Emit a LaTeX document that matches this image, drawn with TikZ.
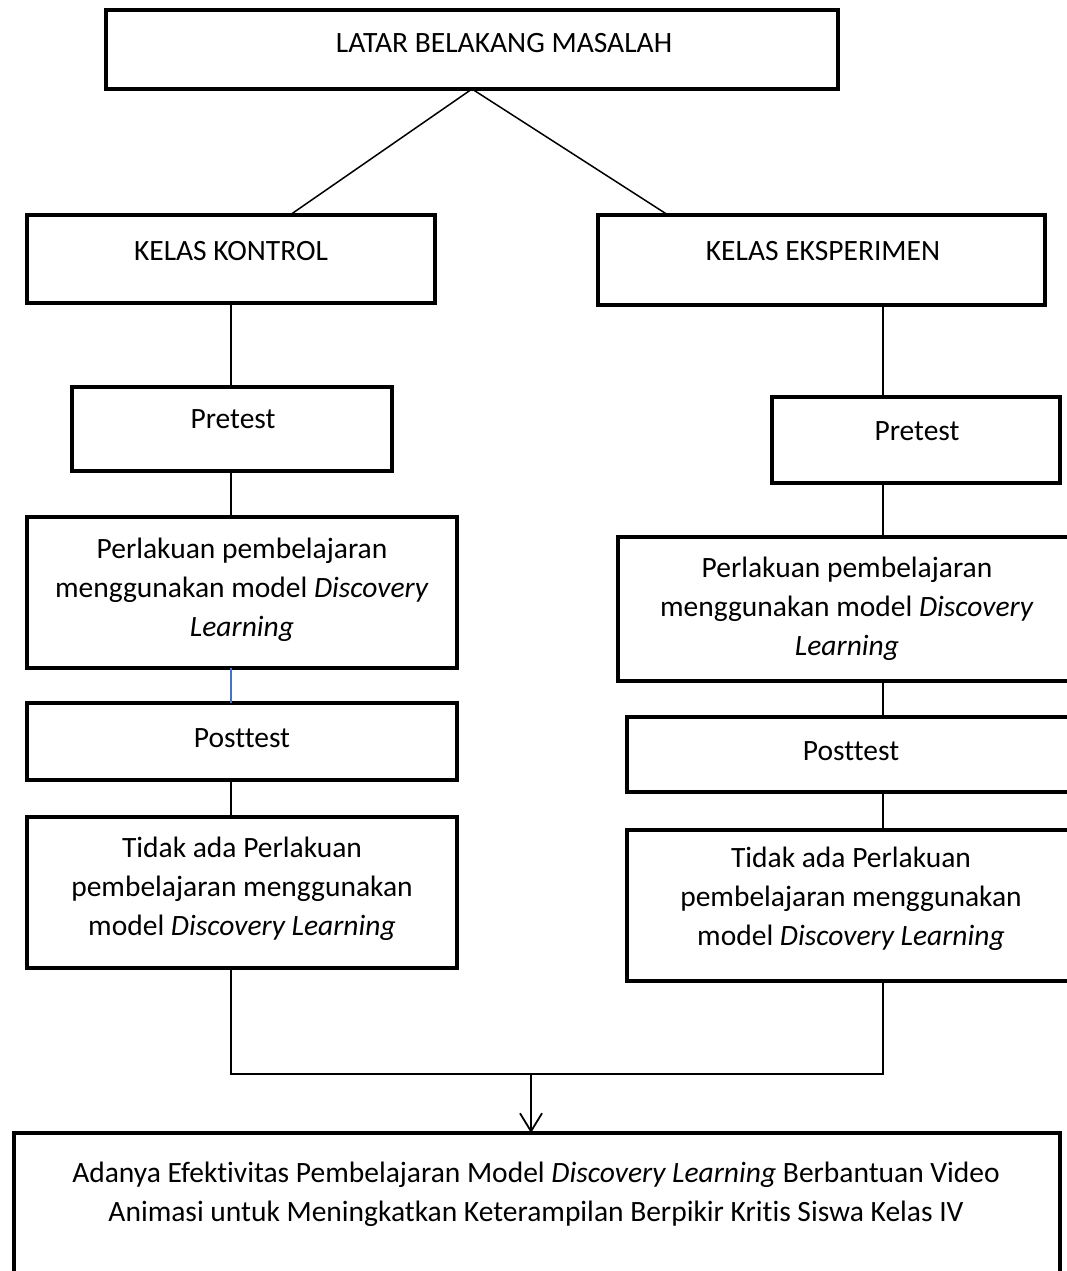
\documentclass[tikz,border=0pt]{standalone}
\usepackage{fontspec}
\setmainfont{Carlito}[Ligatures=NoCommon]
\usetikzlibrary{arrows.meta}
\definecolor{wordblue}{RGB}{68,114,196}
\begin{document}
\begin{tikzpicture}[x=1pt,y=-1pt,
  box/.style={draw, line width=4.5pt, inner sep=0pt, outer sep=0pt, minimum width=#1},
  txt/.style={font=\fontsize{29.5}{39}\selectfont, align=center, inner sep=0pt},
  conn/.style={line width=1.8pt},
  diag/.style={line width=1.5pt}]
\useasboundingbox (0,0) rectangle (1067,1271);
\clip (0,0) rectangle (1067,1271);
% boxes
\node[box=732pt, minimum height=79pt] (top) at (472,49.5) {};
\node[txt] (topt) at (504,43) {LATAR BELAKANG MASALAH};
\node[box=408pt, minimum height=88pt] (kon) at (231,259) {};
\node[txt] (kont) at (231,251) {KELAS KONTROL};
\node[box=447pt, minimum height=90pt] (eks) at (821.5,260) {};
\node[txt] (ekst) at (823,251) {KELAS EKSPERIMEN};
\node[box=320pt, minimum height=84pt] (preL) at (232,429) {};
\node[txt] (preLt) at (233,419) {Pretest};
\node[box=288pt, minimum height=86pt] (preR) at (916,440) {};
\node[txt] (preRt) at (917,431) {Pretest};
\node[box=430pt, minimum height=151pt] (perL) at (242,592.5) {};
\node[txt] (perLt) at (242,590) {Perlakuan pembelajaran\\menggunakan model \textit{Discovery}\\\textit{Learning}};
\node[box=457pt, minimum height=144pt] (perR) at (846.5,609) {};
\node[txt] (perRt) at (847,609) {Perlakuan pembelajaran\\menggunakan model \textit{Discovery}\\\textit{Learning}};
\node[box=430pt, minimum height=77pt] (postL) at (242,741.5) {};
\node[txt] (postLt) at (242,738) {Posttest};
\node[box=448pt, minimum height=75pt] (postR) at (851,754.5) {};
\node[txt] (postRt) at (851,751) {Posttest};
\node[box=430pt, minimum height=151pt] (tidL) at (242,892.5) {};
\node[txt] (tidLt) at (242,889) {Tidak ada Perlakuan\\pembelajaran menggunakan\\model \textit{Discovery Learning}};
\node[box=448pt, minimum height=151pt] (tidR) at (851,905.5) {};
\node[txt] (tidRt) at (851,899) {Tidak ada Perlakuan\\pembelajaran menggunakan\\model \textit{Discovery Learning}};
\node[box=1046pt, minimum height=170pt] (bot) at (537,1218) {};
\node[txt] (bott) at (536,1194) {Adanya Efektivitas Pembelajaran Model \textit{Discovery Learning} Berbantuan Video\\Animasi untuk Meningkatkan Keterampilan Berpikir Kritis Siswa Kelas IV};
% coordinates
\coordinate (cL) at (231,0);
\coordinate (cR) at (883,0);
\coordinate (jL) at (231,1074);
\coordinate (jR) at (883,1074);
\coordinate (jM) at (531,1074);
% connectors
\draw[diag] (top.south) -- ([xshift=59pt]kon.north);
\draw[diag] (top.south) -- ([xshift=-153.5pt]eks.north);
\draw[conn] (cL |- kon.south) -- (cL |- preL.north);
\draw[conn] (cL |- preL.south) -- (cL |- perL.north);
\draw[conn, wordblue] (cL |- perL.south) -- (cL |- postL.north);
\draw[conn] (cL |- postL.south) -- (cL |- tidL.north);
\draw[conn] (cR |- eks.south) -- (cR |- preR.north);
\draw[conn] (cR |- preR.south) -- (cR |- perR.north);
\draw[conn] (cR |- perR.south) -- (cR |- postR.north);
\draw[conn] (cR |- postR.south) -- (cR |- tidR.north);
\draw[conn] (cL |- tidL.south) -- (jL) -- (jR) -- (cR |- tidR.south);
\draw[conn, -{Straight Barb[length=18pt,width=22pt]}] (jM) -- (jM |- bot.north);
\end{tikzpicture}
\end{document}
